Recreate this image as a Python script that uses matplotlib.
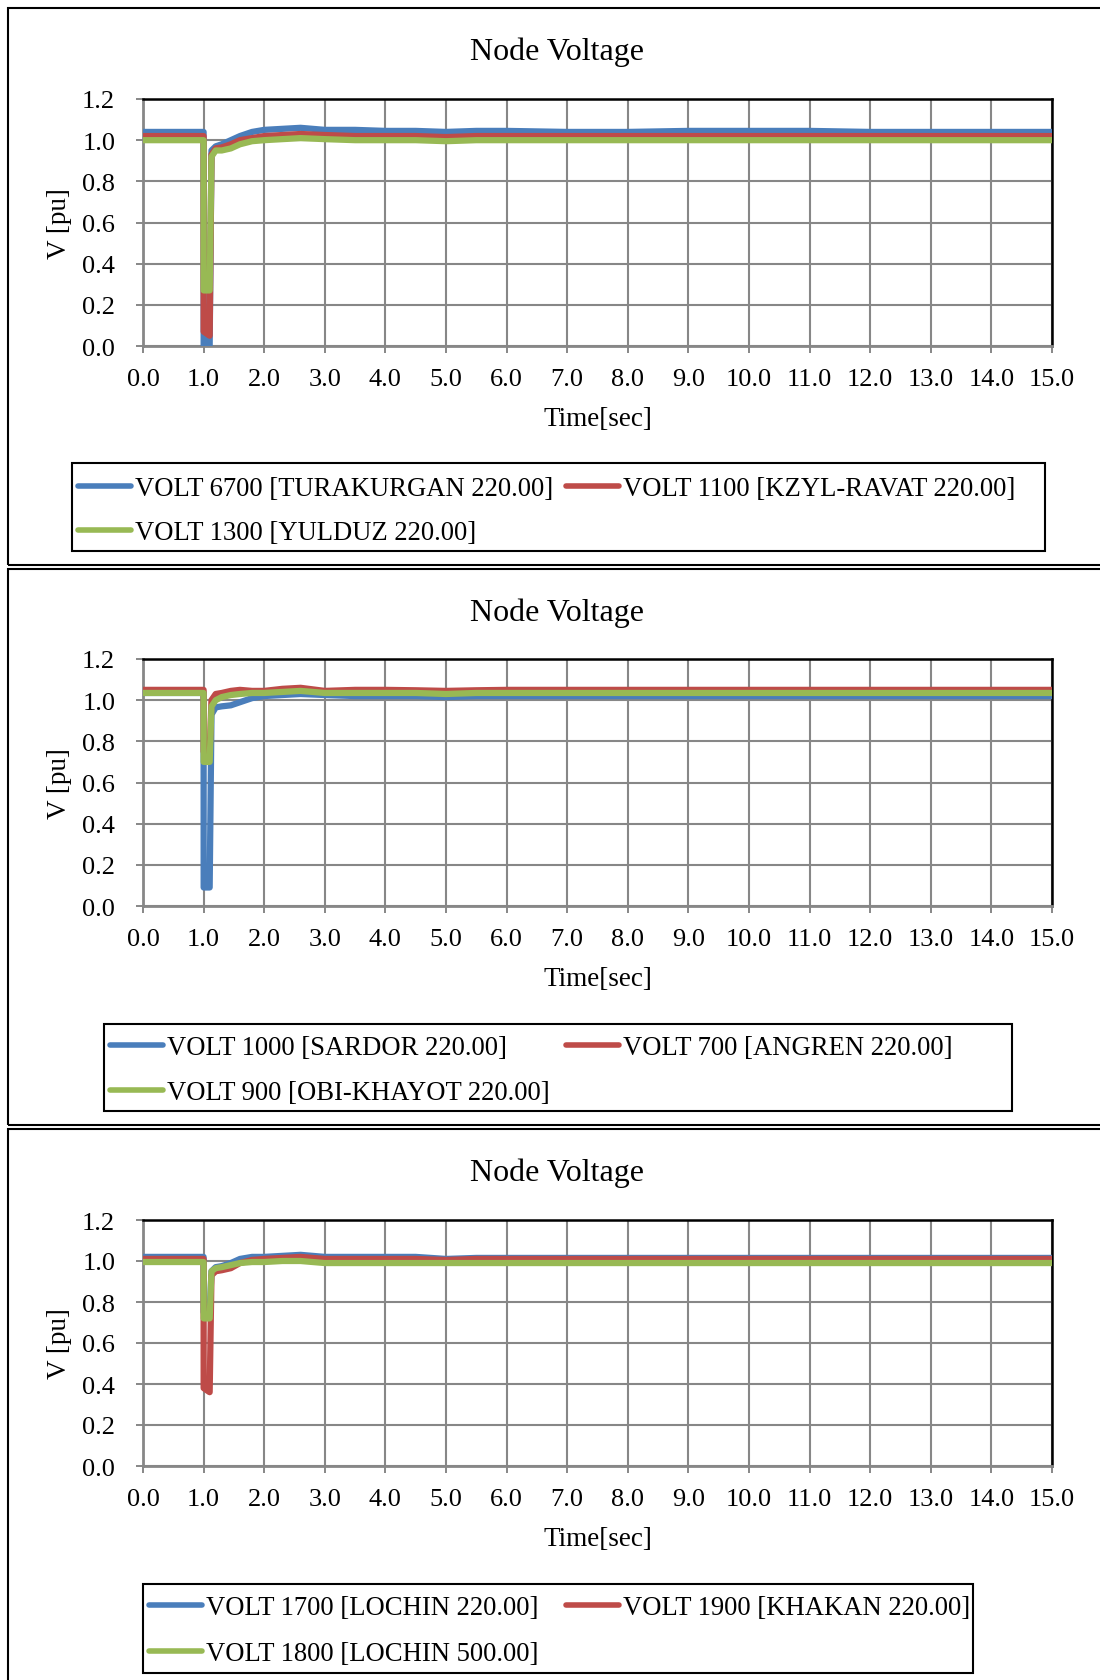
import matplotlib
matplotlib.use('Agg')
import matplotlib.pyplot as plt
from matplotlib.patches import Rectangle

plt.rcParams['font.family'] = ['Liberation Serif', 'DejaVu Serif']

W, H = 1100, 1681
BLUE, RED, GREEN = '#4a7ebb', '#be4b48', '#98b954'
GRID = '#878787'

# --- data ---
time_s = [0.0, 1.0, 1.001, 1.1, 1.13, 1.2, 1.3, 1.45, 1.6, 1.8, 2.0, 2.3, 2.6,
          3.0, 3.5, 4.0, 4.5, 5.0, 5.5, 6.0, 7.0, 8.0, 9.0, 10.0, 11.0, 12.0,
          13.0, 14.0, 15.0]

x_ticks = [0.0, 1.0, 2.0, 3.0, 4.0, 5.0, 6.0, 7.0, 8.0, 9.0, 10.0, 11.0, 12.0, 13.0, 14.0, 15.0]
y_ticks = [0.0, 0.2, 0.4, 0.6, 0.8, 1.0, 1.2]

# panel 1
p1_names = ['VOLT 6700 [TURAKURGAN 220.00]', 'VOLT 1100 [KZYL-RAVAT 220.00]',
            'VOLT 1300 [YULDUZ 220.00]']
v6700 = [1.04, 1.04, 0.0, 0.0, 0.95, 0.97, 0.98, 1.0, 1.02, 1.04, 1.05, 1.055, 1.06,
         1.05, 1.05, 1.045, 1.045, 1.04, 1.045, 1.045, 1.04, 1.04, 1.045, 1.045, 1.045, 1.04,
         1.04, 1.04, 1.04]
v1100 = [1.02, 1.02, 0.07, 0.05, 0.93, 0.96, 0.965, 0.98, 1.0, 1.01, 1.02, 1.025, 1.03,
         1.025, 1.02, 1.02, 1.02, 1.015, 1.02, 1.02, 1.02, 1.02, 1.02, 1.02, 1.02, 1.02,
         1.02, 1.02, 1.02]
v1300 = [1.0, 1.0, 0.27, 0.27, 0.92, 0.95, 0.95, 0.96, 0.98, 0.995, 1.0, 1.005, 1.01,
         1.005, 1.0, 1.0, 1.0, 0.995, 1.0, 1.0, 1.0, 1.0, 1.0, 1.0, 1.0, 1.0,
         1.0, 1.0, 1.0]

# panel 2
p2_names = ['VOLT 1000 [SARDOR 220.00]', 'VOLT 700 [ANGREN 220.00]',
            'VOLT 900 [OBI-KHAYOT 220.00]']
v1000 = [1.035, 1.035, 0.09, 0.09, 0.93, 0.965, 0.97, 0.975, 0.99, 1.01, 1.02, 1.025, 1.03,
         1.025, 1.02, 1.02, 1.02, 1.015, 1.02, 1.02, 1.02, 1.02, 1.02, 1.02, 1.02, 1.02,
         1.02, 1.02, 1.02]
v700 = [1.05, 1.05, 0.75, 0.75, 1.0, 1.03, 1.035, 1.045, 1.05, 1.045, 1.045, 1.055, 1.06,
        1.045, 1.05, 1.05, 1.048, 1.045, 1.048, 1.05, 1.05, 1.05, 1.05, 1.05, 1.05, 1.05,
        1.05, 1.05, 1.05]
v900 = [1.035, 1.035, 0.70, 0.70, 0.97, 1.0, 1.015, 1.025, 1.03, 1.035, 1.035, 1.04, 1.045,
        1.035, 1.035, 1.035, 1.035, 1.03, 1.035, 1.035, 1.035, 1.035, 1.035, 1.035, 1.035, 1.035,
        1.035, 1.035, 1.035]

# panel 3
p3_names = ['VOLT 1700 [LOCHIN 220.00]', 'VOLT 1900 [KHAKAN 220.00]',
            'VOLT 1800 [LOCHIN 500.00]']
v1700 = [1.02, 1.02, 0.75, 0.75, 0.95, 0.97, 0.975, 0.99, 1.01, 1.02, 1.02, 1.025, 1.03,
         1.02, 1.02, 1.02, 1.02, 1.01, 1.015, 1.015, 1.015, 1.015, 1.015, 1.015, 1.015, 1.015,
         1.015, 1.015, 1.015]
v1900 = [1.01, 1.01, 0.38, 0.36, 0.93, 0.95, 0.955, 0.965, 0.99, 1.005, 1.01, 1.015, 1.02,
         1.01, 1.01, 1.01, 1.01, 1.005, 1.01, 1.01, 1.01, 1.01, 1.01, 1.01, 1.01, 1.01,
         1.01, 1.01, 1.01]
v1800 = [0.995, 0.995, 0.72, 0.72, 0.95, 0.965, 0.97, 0.98, 0.99, 0.995, 0.995, 1.0, 1.0,
         0.99, 0.99, 0.99, 0.99, 0.99, 0.99, 0.99, 0.99, 0.99, 0.99, 0.99, 0.99, 0.99,
         0.99, 0.99, 0.99]

panels = [
    # pixel layout: frame (top, bottom), axes (top, bottom), legend box, column x, row y
    dict(series=[v6700, v1100, v1300], names=p1_names, frame=(9, 566), axes=(100, 347),
         box=(72, 464, 1045, 552), col1=78, col2=566, rows=(490, 534)),
    dict(series=[v1000, v700, v900], names=p2_names, frame=(570, 1126), axes=(660, 907),
         box=(104, 1025, 1012, 1112), col1=110, col2=566, rows=(1049, 1094)),
    dict(series=[v1700, v1900, v1800], names=p3_names, frame=(1130, 1700), axes=(1221, 1467),
         box=(143, 1585, 973, 1674), col1=149, col2=566, rows=(1609, 1655)),
]


def fx(px):
    return px / W


def fy(py):
    return 1 - py / H


fig = plt.figure(figsize=(W / 100, H / 100), dpi=100)

for p in panels:
    ftop, fbot = p['frame']
    fig.add_artist(Rectangle((fx(8), fy(fbot)), fx(1200), (fbot - ftop) / H, fill=False,
                             ec='black', lw=1.5, transform=fig.transFigure))

    atop, abot = p['axes']
    ax = fig.add_axes([fx(143), fy(abot), fx(1052 - 143), (abot - atop) / H])

    lines = []
    for vals, name, color in zip(p['series'], p['names'], [BLUE, RED, GREEN]):
        ln, = ax.plot(time_s, vals, color=color, lw=4.5, solid_capstyle='round',
                      solid_joinstyle='round', label=name, zorder=3)
        lines.append(ln)

    ax.set_xlim(0, 15)
    ax.set_ylim(0, 1.2)
    ax.set_xticks(x_ticks)
    ax.set_xticklabels([f'{v:.1f}' for v in x_ticks])
    ax.set_yticks(y_ticks)
    ax.set_yticklabels([f'{v:.1f}' for v in y_ticks])
    ax.grid(True, color=GRID, lw=1.5)
    ax.set_axisbelow(True)
    for side in ['left', 'bottom']:
        ax.spines[side].set_color(GRID)
        ax.spines[side].set_linewidth(2)
    for side in ['top', 'right']:
        ax.spines[side].set_color('black')
        ax.spines[side].set_linewidth(1.8)
    ax.tick_params(axis='both', direction='out', length=5, width=1.4, color=GRID,
                   labelsize=19, labelcolor='black')
    ax.tick_params(axis='y', pad=15)
    ax.tick_params(axis='x', pad=11)

    ax.set_ylabel('V [pu]', fontsize=19.5)
    ax.yaxis.set_label_coords((59 - 143) / (1052 - 143), 0.5)
    ax.yaxis.label.set_va('center')
    ax.set_xlabel('Time[sec]', fontsize=19.5)
    ax.xaxis.set_label_coords(0.5, -(420 - 347) / (abot - atop))
    ax.xaxis.label.set_va('center')

    fig.text(fx(557), fy(ftop + 43), 'Node Voltage', ha='center', va='center', fontsize=23)

    # legend: Excel-style fixed columns inside a framed box
    x0, y0, x1, y1 = p['box']
    fig.add_artist(Rectangle((fx(x0), fy(y1)), fx(x1 - x0), (y1 - y0) / H, fill=False,
                             ec='black', lw=1.5, transform=fig.transFigure))
    slots = [(p['col1'], p['rows'][0]), (p['col2'], p['rows'][0]), (p['col1'], p['rows'][1])]
    for ln, (lx, ly) in zip(lines, slots):
        leg = fig.legend([ln], [ln.get_label()], loc='center left',
                         bbox_to_anchor=(fx(lx), fy(ly)), frameon=False, fontsize=19.2,
                         handlelength=2.0, handletextpad=0.15, borderpad=0, borderaxespad=0)
        for h in leg.legend_handles:
            h.set_linewidth(4)

fig.savefig('out.png', dpi=100)
